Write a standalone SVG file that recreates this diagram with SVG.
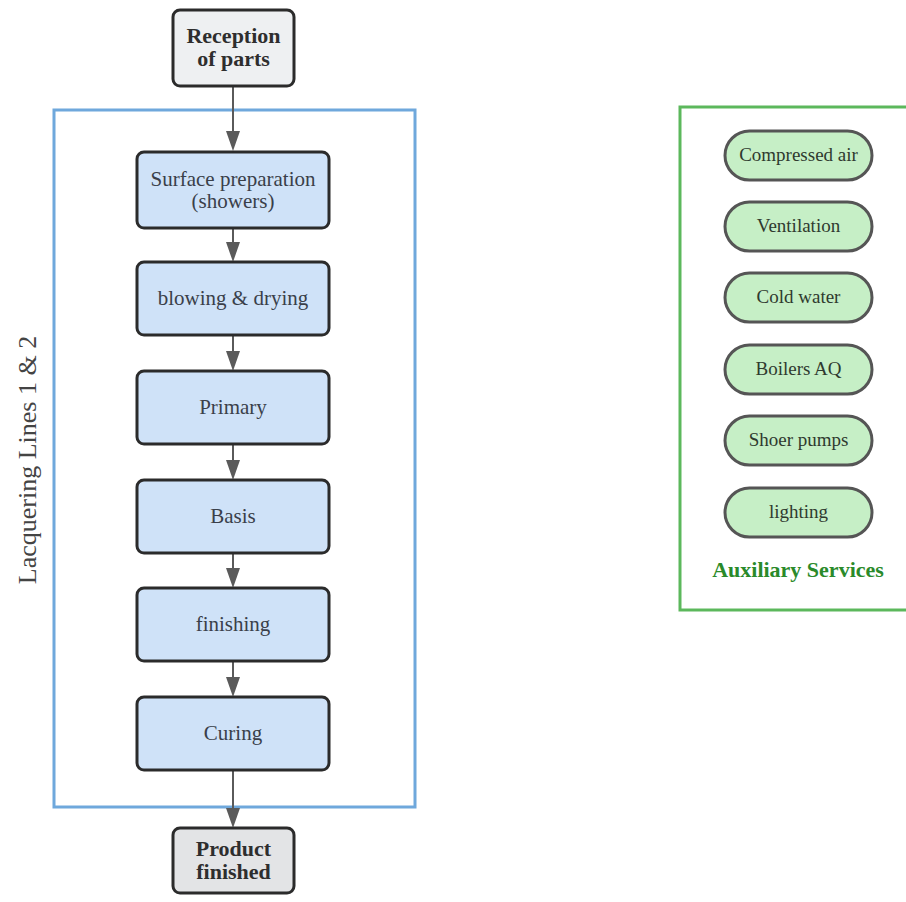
<svg xmlns="http://www.w3.org/2000/svg" width="906" height="902" viewBox="0 0 906 902">
  <style>
    text { font-family: "Liberation Serif", "Times New Roman", serif; fill: #3a3f4a; text-anchor: middle; }
    .step rect { fill: #cfe2f8; stroke: #2b2b2b; stroke-width: 3; }
    .step text { font-size: 21px; }
    .term rect { stroke: #2b2b2b; stroke-width: 3; }
    .term text { font-size: 22px; font-weight: bold; fill: #2e2e2e; }
    .svc rect { fill: #c6efc6; stroke: #555; stroke-width: 3; }
    .svc text { font-size: 19px; fill: #2f3a2f; }
    .edge { stroke: #5a5a5a; stroke-width: 2; fill: none; marker-end: url(#arrow); }
    .lane-label { font-size: 26px; fill: #444; }
    .aux-label { font-size: 22px; font-weight: bold; fill: #2a8a2a; }
  </style>
  <defs>
    <marker id="arrow" markerUnits="userSpaceOnUse" markerWidth="20" markerHeight="14" refX="0" refY="7" orient="auto">
      <path d="M0,0 L20,7 L0,14 z" fill="#5a5a5a"/>
    </marker>
  </defs>
  <rect width="906" height="902" fill="#ffffff"/>

  <!-- lacquering line cluster -->
  <g id="cluster-lacquering">
    <rect x="54" y="110" width="361" height="697" fill="none" stroke="#6fa8dc" stroke-width="3"/>
    <text class="lane-label" transform="translate(36,460) rotate(-90)">Lacquering Lines 1 &amp; 2</text>
  </g>

  <!-- auxiliary services cluster -->
  <g id="cluster-auxiliary">
    <rect x="680" y="107" width="240" height="503" fill="none" stroke="#5cb85c" stroke-width="3"/>
    <text class="aux-label" x="798" y="577">Auxiliary Services</text>
  </g>

  <!-- connectors -->
  <g id="connectors">
    <path class="edge" d="M233 86 V131"/>
    <path class="edge" d="M233 228 V242"/>
    <path class="edge" d="M233 335 V351"/>
    <path class="edge" d="M233 444 V460"/>
    <path class="edge" d="M233 553 V568"/>
    <path class="edge" d="M233 661 V677"/>
    <path class="edge" d="M233 770 V808"/>
  </g>

  <g id="reception" class="term">
    <rect x="173" y="10" width="121" height="76" rx="7" fill="#eef0f2"/>
    <text x="233.5" y="43">Reception</text>
    <text x="233.5" y="66">of parts</text>
  </g>

  <g id="surface-prep" class="step">
    <rect x="137" y="152" width="192" height="76" rx="7"/>
    <text x="233" y="186">Surface preparation</text>
    <text x="233" y="208">(showers)</text>
  </g>
  <g id="blowing-drying" class="step">
    <rect x="137" y="262" width="192" height="73" rx="7"/>
    <text x="233" y="305">blowing &amp; drying</text>
  </g>
  <g id="primary" class="step">
    <rect x="137" y="371" width="192" height="73" rx="7"/>
    <text x="233" y="414">Primary</text>
  </g>
  <g id="basis" class="step">
    <rect x="137" y="480" width="192" height="73" rx="7"/>
    <text x="233" y="523">Basis</text>
  </g>
  <g id="finishing" class="step">
    <rect x="137" y="588" width="192" height="73" rx="7"/>
    <text x="233" y="631">finishing</text>
  </g>
  <g id="curing" class="step">
    <rect x="137" y="697" width="192" height="73" rx="7"/>
    <text x="233" y="740">Curing</text>
  </g>

  <g id="product-finished" class="term">
    <rect x="173" y="828" width="121" height="65" rx="7" fill="#e3e4e6"/>
    <text x="233.5" y="856">Product</text>
    <text x="233.5" y="879">finished</text>
  </g>

  <g id="compressed-air" class="svc">
    <rect x="725" y="131" width="147" height="49" rx="24.5"/>
    <text x="798.5" y="161">Compressed air</text>
  </g>
  <g id="ventilation" class="svc">
    <rect x="725" y="202" width="147" height="49" rx="24.5"/>
    <text x="798.5" y="232">Ventilation</text>
  </g>
  <g id="cold-water" class="svc">
    <rect x="725" y="273" width="147" height="49" rx="24.5"/>
    <text x="798.5" y="303">Cold water</text>
  </g>
  <g id="boilers-aq" class="svc">
    <rect x="725" y="345" width="147" height="49" rx="24.5"/>
    <text x="798.5" y="375">Boilers AQ</text>
  </g>
  <g id="shoer-pumps" class="svc">
    <rect x="725" y="416" width="147" height="49" rx="24.5"/>
    <text x="798.5" y="446">Shoer pumps</text>
  </g>
  <g id="lighting" class="svc">
    <rect x="725" y="488" width="147" height="49" rx="24.5"/>
    <text x="798.5" y="518">lighting</text>
  </g>
</svg>
